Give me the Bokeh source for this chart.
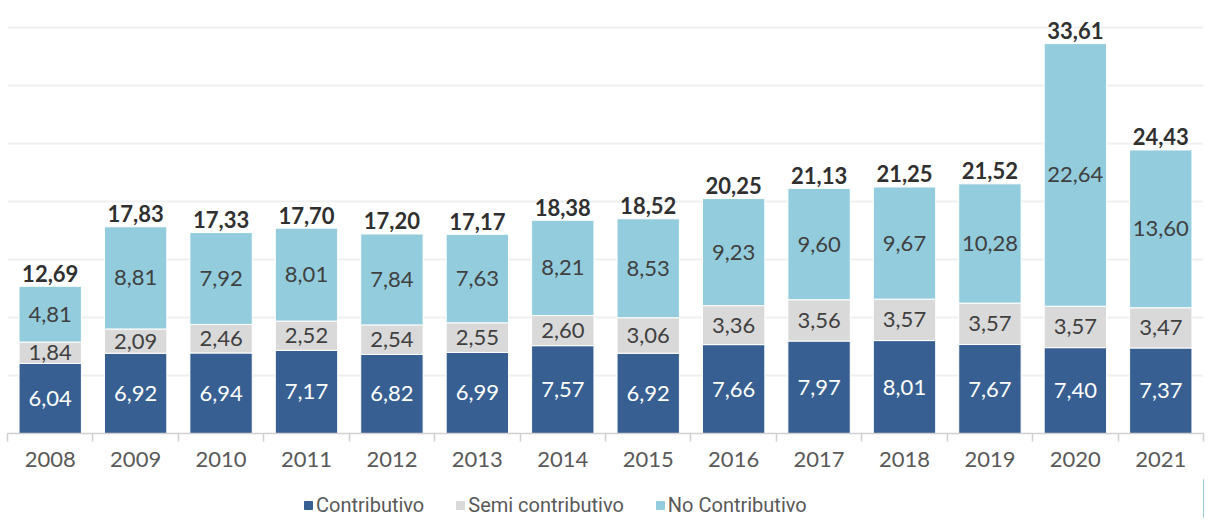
from bokeh.plotting import figure
from bokeh.layouts import column
from bokeh.models import ColumnDataSource, FixedTicker, Legend, LegendItem
from bokeh.core.properties import value
from bokeh.embed import file_html
from bokeh.resources import INLINE

years = ["2008", "2009", "2010", "2011", "2012", "2013", "2014",
         "2015", "2016", "2017", "2018", "2019", "2020", "2021"]
contributivo = [6.04, 6.92, 6.94, 7.17, 6.82, 6.99, 7.57, 6.92, 7.66, 7.97, 8.01, 7.67, 7.40, 7.37]
semi_contributivo = [1.84, 2.09, 2.46, 2.52, 2.54, 2.55, 2.60, 3.06, 3.36, 3.56, 3.57, 3.57, 3.57, 3.47]
no_contributivo = [4.81, 8.81, 7.92, 8.01, 7.84, 7.63, 8.21, 8.53, 9.23, 9.60, 9.67, 10.28, 22.64, 13.60]
totales = [12.69, 17.83, 17.33, 17.70, 17.20, 17.17, 18.38, 18.52, 20.25, 21.13, 21.25, 21.52, 33.61, 24.43]
series = ["Contributivo", "Semi contributivo", "No Contributivo"]

C1, C2, C3 = "#375F92", "#D9D9D9", "#93CDDD"
FONT = "Lato"

def fmt(v):
    return f"{v:.2f}".replace(".", ",")

x = list(range(len(years)))
t1 = contributivo[:]
t2 = [a + b for a, b in zip(t1, semi_contributivo)]
t3 = [a + b for a, b in zip(t2, no_contributivo)]

src = ColumnDataSource(dict(
    x=x, c=contributivo, s=semi_contributivo, n=no_contributivo,
    m1=[v / 2 for v in t1],
    m2=[(a + b) / 2 for a, b in zip(t1, t2)],
    m3=[(a + b) / 2 for a, b in zip(t2, t3)],
    top=t3,
    lc=[fmt(v) for v in contributivo],
    ls=[fmt(v) for v in semi_contributivo],
    ln=[fmt(v) for v in no_contributivo],
    lt=[fmt(v) for v in totales],
))

p = figure(width=1209, height=479, x_range=(-0.5, 13.5), y_range=(0, 36.72),
           output_backend="svg", toolbar_location=None,
           min_border_left=7, min_border_right=6, min_border_top=7, min_border_bottom=46)
p.outline_line_color = None

r = p.vbar_stack(["c", "s", "n"], x="x", width=0.73, source=src,
                 color=[C1, C2, C3], line_color="white", line_width=1)

common = dict(x="x", source=src, text_align="center", text_baseline="middle",
              text_font=value(FONT), text_font_size="22px")
p.text(y="m1", text="lc", text_color="white", **common)
p.text(y="m2", text="ls", text_color="#404040", **common)
p.text(y="m3", text="ln", text_color="#404040", **common)
p.text(x="x", y="top", text="lt", source=src, text_align="center",
       text_baseline="alphabetic", y_offset=-13, text_color="#303030",
       text_font=value(FONT), text_font_size="22px", text_font_style="bold")

p.yaxis.visible = False
p.ygrid.ticker = FixedTicker(ticks=[0, 5, 10, 15, 20, 25, 30, 35])
p.ygrid.grid_line_color = "#F0F0F0"
p.ygrid.grid_line_width = 2
p.xgrid.visible = False

ax = p.xaxis[0]
ax.ticker = FixedTicker(ticks=x, minor_ticks=[i - 0.5 for i in range(len(years) + 1)])
ax.major_label_overrides = {i: y for i, y in zip(x, years)}
ax.major_tick_line_color = None
ax.major_tick_out = 0
ax.major_tick_in = 0
ax.minor_tick_line_color = "#D0D0D0"
ax.minor_tick_line_width = 1.5
ax.minor_tick_out = 8
ax.minor_tick_in = 0
ax.axis_line_color = "#D0D0D0"
ax.axis_line_width = 1.5
ax.major_label_text_font = FONT
ax.major_label_text_font_size = "22px"
ax.major_label_text_color = "#595959"
ax.major_label_standoff = 10

# legend in its own strip below the chart (its glyphs sit outside the visible range)
lg = figure(width=1209, height=39, x_range=(0, 1), y_range=(0, 1),
            output_backend="svg", toolbar_location=None,
            min_border_left=0, min_border_right=0, min_border_top=0, min_border_bottom=0)
lg.axis.visible = False
lg.grid.visible = False
lg.outline_line_color = None
items = []
for name, col in zip(series, [C1, C2, C3]):
    rr = lg.vbar(x=[5], top=[5], width=0.1, color=col)
    items.append(LegendItem(label=name, renderers=[rr]))
legend = Legend(items=items, orientation="horizontal", location=(296, 1))
legend.label_text_font = "Roboto"
legend.label_text_font_size = "20px"
legend.label_text_color = "#595959"
legend.glyph_width = 10
legend.glyph_height = 10
legend.label_standoff = 3
legend.label_height = 20
legend.spacing = 31
legend.padding = 0
legend.margin = 0
legend.border_line_color = None
legend.background_fill_alpha = 0
lg.add_layout(legend, "center")

layout = column(p, lg, spacing=0)
open("out.html", "w").write(file_html(layout, INLINE))
